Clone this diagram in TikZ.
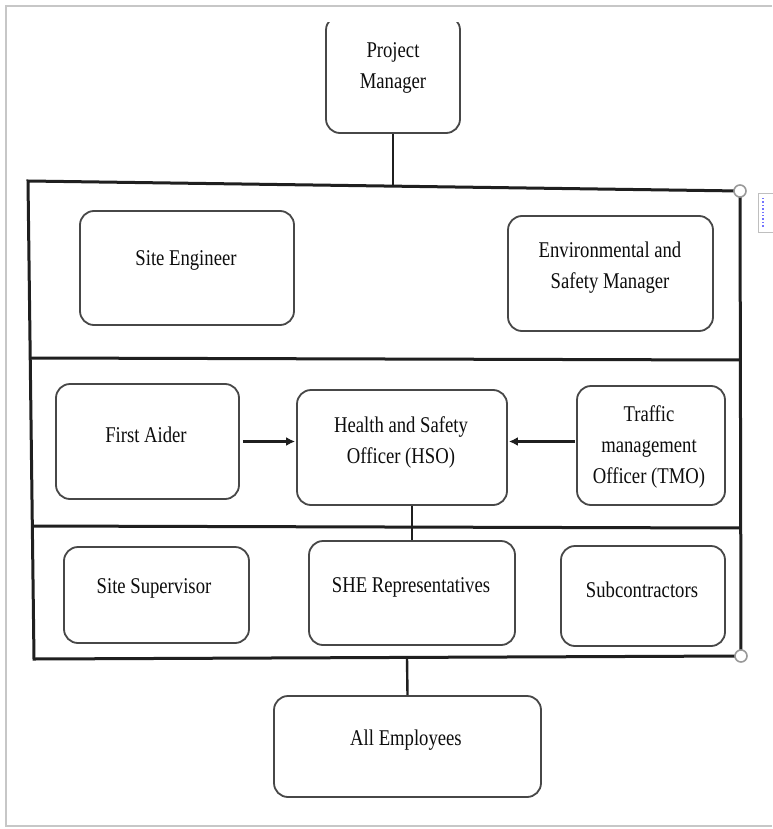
\documentclass[tikz,border=0pt]{standalone}
\usepackage{fontspec}
\setmainfont{Liberation Serif}[FakeStretch=0.83]
\usetikzlibrary{arrows.meta,calc}
\tikzset{
  box/.style={draw=black!72, line width=1.8pt, rounded corners=14pt, fill=white, inner sep=0pt},
  lbl/.style={align=center, inner sep=0pt, text=black!95, font=\fontsize{22.5}{31}\selectfont},
  frame/.style={draw=black!88, line width=3pt},
  conn/.style={draw=black!88, line width=2.4pt},
  arr/.style={draw=black!88, line width=2.6pt, -{Latex[length=9pt,width=9pt]}},
  handle/.style={draw=black!40, fill=white, line width=1.6pt},
  page/.style={draw=black!22, line width=2.2pt}
}
\begin{document}
\begin{tikzpicture}[x=1pt,y=-1pt]
\useasboundingbox (0,0) rectangle (772,829);
\fill[white] (0,0) rectangle (772,829);
% page border
\draw[page] (772,6) -- (6,6) -- (6,826) -- (772,826);
% layout icon at right
\draw[draw=black!25, line width=1pt, fill=white] (758,193) rectangle (776,232);
\draw[draw=blue!55, line width=1.4pt, dotted] (763,198) -- (763,227);

% Project Manager (clipped at top)
\begin{scope}
\clip (0,23) rectangle (772,829);
\node[box, minimum width=134pt, minimum height=117pt] (pm) at (393,74.5) {};
\end{scope}
\node[lbl] (pmt) at (393,68) {Project\\Manager};

% frame
\coordinate (tl) at (28,181);
\coordinate (tr) at (740,191);
\coordinate (br) at (741,656);
\coordinate (bl) at (34,659);
\coordinate (d1l) at (31,358);
\coordinate (d1r) at (741,360);
\coordinate (d2l) at (32,526);
\coordinate (d2r) at (741,528);
\draw[frame] (tr) -- (tl) -- (bl) -- (br) -- (tr);
\draw[frame] (d1l) -- (d1r);
\draw[frame] (d2l) -- (d2r);

% boxes
\node[box, minimum width=214pt, minimum height=114pt] (se) at (187,268) {};
\node[lbl] (set) at (186,260) {Site Engineer};
\node[box, minimum width=205pt, minimum height=115pt] (esm) at (610.5,273.5) {};
\node[lbl] (esmt) at (610,268) {Environmental and\\Safety Manager};

\node[box, minimum width=183pt, minimum height=115pt] (fa) at (147.5,441.5) {};
\node[lbl] (fat) at (146,435) {First Aider};
\node[box, minimum width=210pt, minimum height=115pt] (hso) at (402,447.5) {};
\node[lbl] (hsot) at (401,442) {Health and Safety\\Officer (HSO)};
\node[box, minimum width=148pt, minimum height=119pt] (tmo) at (651,445.5) {};
\node[lbl] (tmot) at (649,447) {Traffic\\management\\Officer (TMO)};

\node[box, minimum width=185pt, minimum height=96pt] (ss) at (156.5,595) {};
\node[lbl] (sst) at (154,588) {Site Supervisor};
\node[box, minimum width=206pt, minimum height=104pt] (she) at (412,593) {};
\node[lbl] (shet) at (411,587) {SHE Representatives};
\node[box, minimum width=164pt, minimum height=100pt] (sub) at (643,596) {};
\node[lbl] (subt) at (642,590) {Subcontractors};

\node[box, minimum width=267pt, minimum height=101pt] (ae) at (407.5,746.5) {};
\node[lbl] (aet) at (406,740) {All Employees};

% connectors
\coordinate (ptop) at (393,186.5);
\draw[conn] (pm.south) -- (ptop);
\draw[conn] (she.north |- hso.south) -- (she.north);
\coordinate (pbot) at (407,657.5);
\draw[conn] (pbot) -- (ae.north);
\draw[arr, shorten <=3pt, shorten >=1pt] (fa.east) -- (fa.east -| hso.west);
\draw[arr, shorten <=1pt, shorten >=1pt] ([yshift=4pt]tmo.west) -- ([yshift=4pt]tmo.west -| hso.east);

% handles
\draw[handle] (tr) circle (6pt);
\draw[handle] (br) circle (6pt);
\end{tikzpicture}
\end{document}
